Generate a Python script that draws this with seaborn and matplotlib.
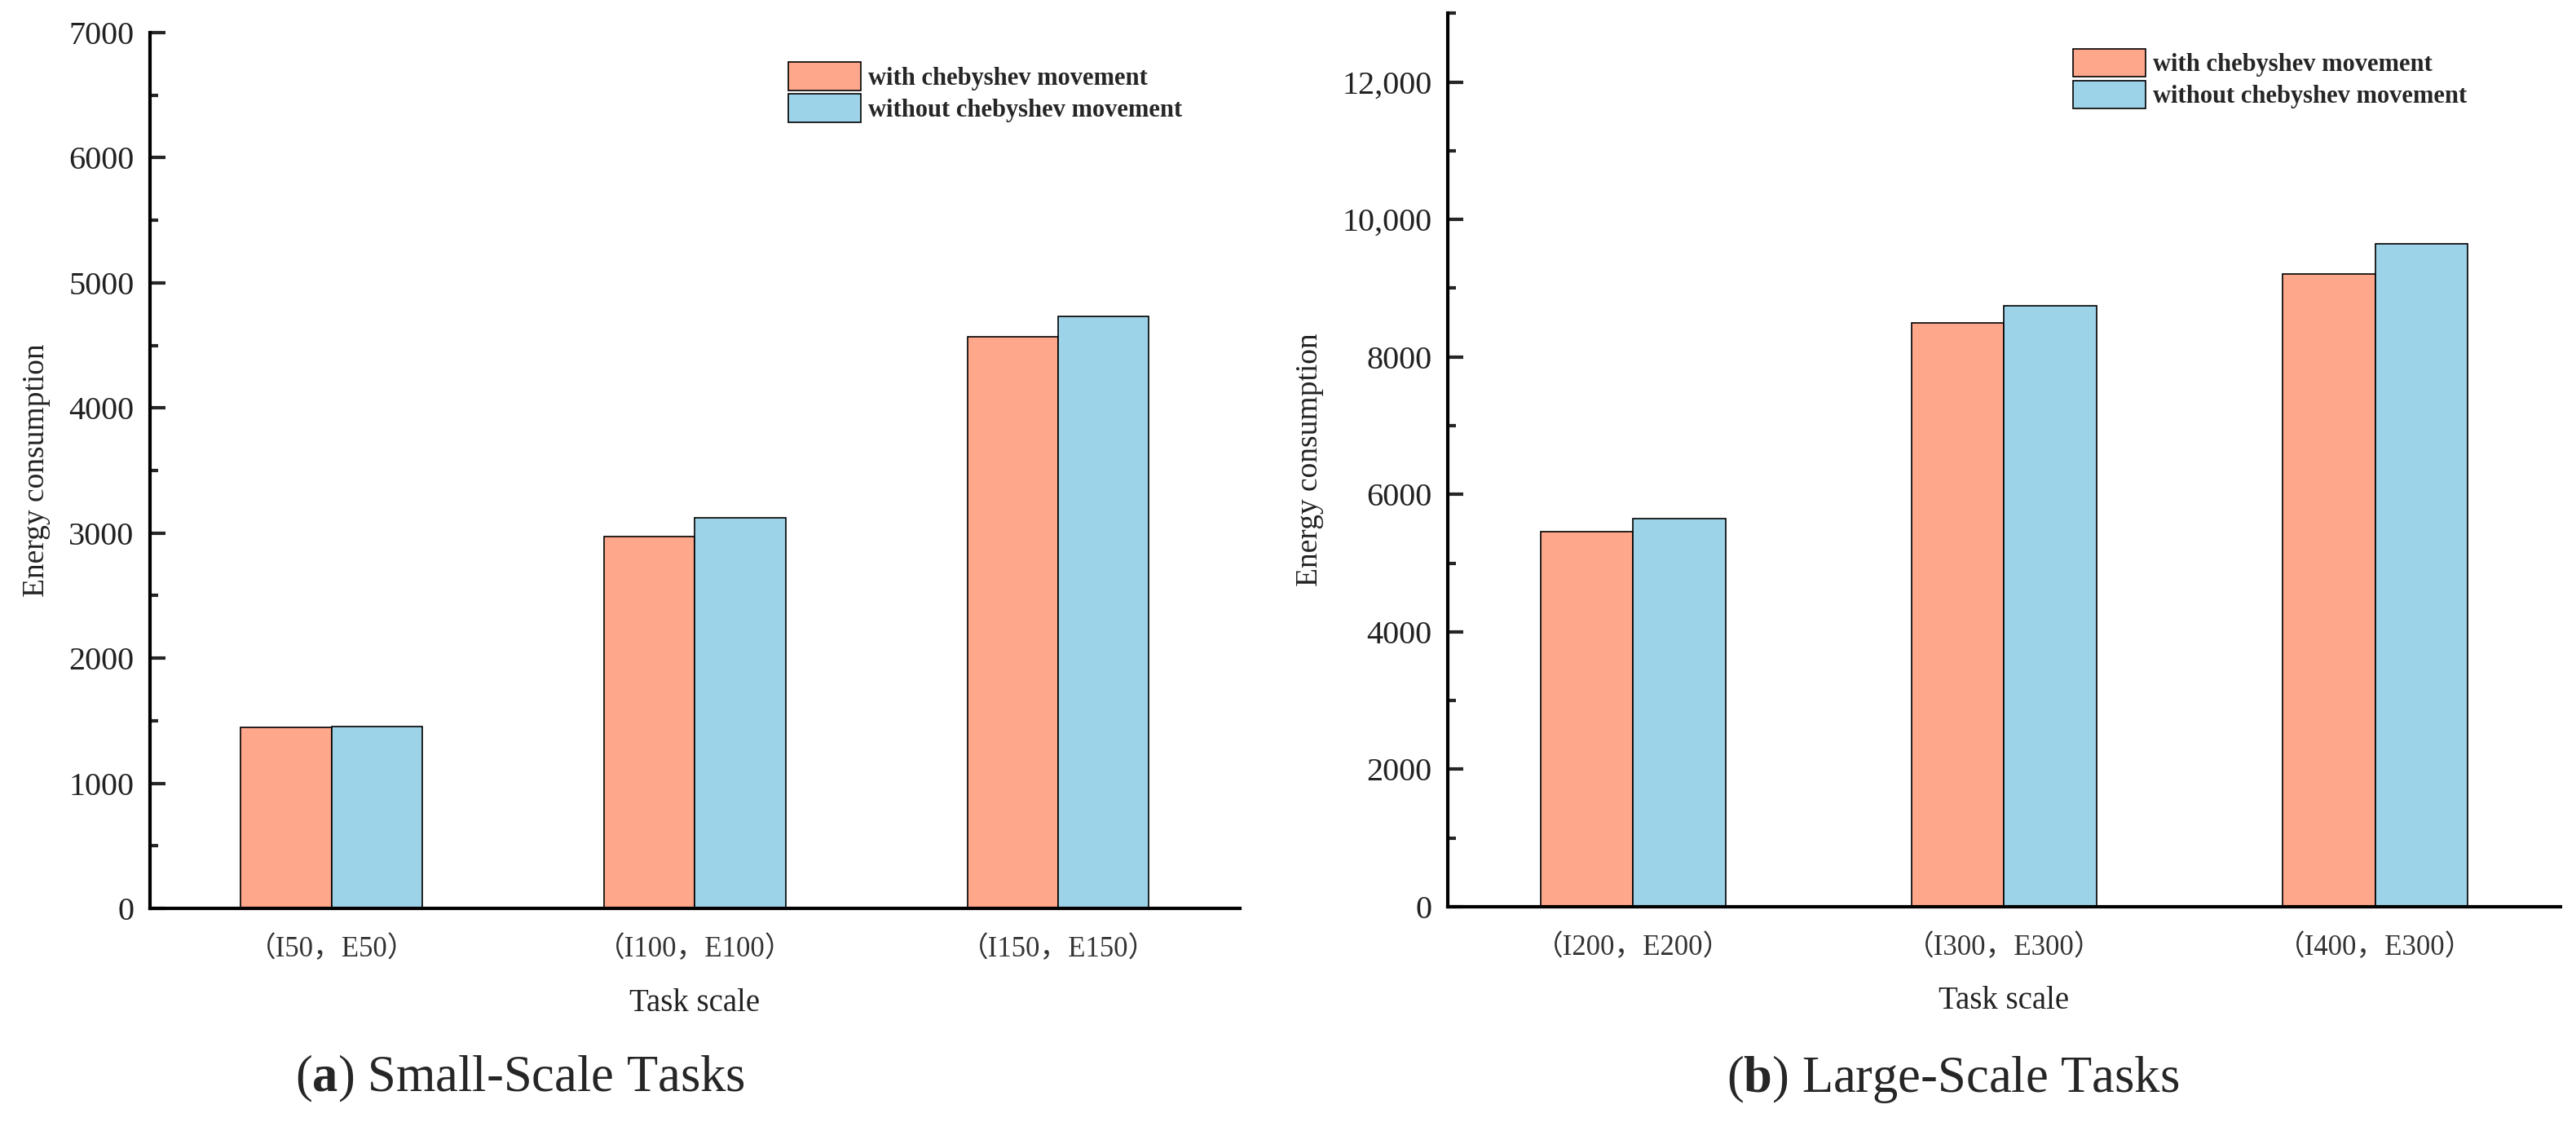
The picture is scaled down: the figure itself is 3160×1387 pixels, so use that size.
import pandas as pd
import matplotlib.pyplot as plt
import matplotlib.ticker as mticker
import seaborn as sns

methods = ['with chebyshev movement', 'without chebyshev movement']

small_scales = ['（I50，E50）', '（I100，E100）', '（I150，E150）']
small_with = [1445, 2972, 4568]
small_without = [1452, 3120, 4731]

large_scales = ['（I200，E200）', '（I300，E300）', '（I400，E300）']
large_with = [5455, 8490, 9210]
large_without = [5650, 8745, 9640]

colors = ['#FFA78A', '#9DD3E8']

sns.set_style('white')
plt.rcParams['font.family'] = ['Liberation Serif', 'Noto Sans CJK SC']
plt.rcParams['mathtext.fontset'] = 'custom'
plt.rcParams['mathtext.rm'] = 'Liberation Serif'
plt.rcParams['mathtext.bf'] = 'Liberation Serif:bold'


def make_df(scales, v_with, v_without):
    return pd.DataFrame({
        'scale': scales * 2,
        'energy': v_with + v_without,
        'method': [methods[0]] * len(scales) + [methods[1]] * len(scales),
    })


def fmt_large(v, pos):
    v = int(round(v))
    return f'{v:,}' if v >= 10000 else f'{v}'


fig = plt.figure(figsize=(31.6, 13.87), dpi=100)
ax1 = fig.add_axes([0.0582, 0.1968, 0.4231, 0.7744])
ax2 = fig.add_axes([0.562, 0.1983, 0.432, 0.790])

panels = [
    (ax1, make_df(small_scales, small_with, small_without), 7000, 1000, 500, 0.586, 0.966),
    (ax2, make_df(large_scales, large_with, large_without), 13000, 2000, 1000, 0.562, 0.960),
]

for ax, df, ymax, major, minor, lx, ly in panels:
    sns.barplot(data=df, x='scale', y='energy', hue='method', palette=colors,
                saturation=1, width=0.5, edgecolor='black', linewidth=1.2, ax=ax)
    ax.set_xlim(-0.5, 2.5)
    ax.set_ylim(0, ymax)
    ax.yaxis.set_major_locator(mticker.MultipleLocator(major))
    ax.yaxis.set_minor_locator(mticker.MultipleLocator(minor))
    ax.yaxis.set_major_formatter(mticker.FuncFormatter(fmt_large))
    for side in ['top', 'right']:
        ax.spines[side].set_visible(False)
    for side in ['left', 'bottom']:
        ax.spines[side].set_linewidth(3)
        ax.spines[side].set_color('black')
    ax.tick_params(axis='y', which='major', direction='in', length=14, width=3,
                   labelsize=29, pad=14, left=True, labelcolor='#222222')
    ax.tick_params(axis='y', which='minor', direction='in', length=7, width=3, left=True)
    ax.tick_params(axis='x', which='major', direction='in', length=10, width=3,
                   labelsize=25, pad=24, bottom=True, labelcolor='#333333')
    ax.set_xlabel('Task scale', fontsize=28, labelpad=22, color='#222222')
    ax.set_ylabel('Energy consumption', fontsize=27, labelpad=16, color='#222222')

    handles, labels = ax.get_legend_handles_labels()
    ax.legend(handles, labels, loc='upper left', bbox_to_anchor=(lx, ly),
              frameon=False, borderaxespad=0, borderpad=0,
              prop={'family': 'Liberation Serif', 'weight': 'bold', 'size': 22},
              handlelength=2.9, handleheight=1.35, handletextpad=0.3,
              labelspacing=0.15)

fig.text(0.202, 0.046, r'($\mathbf{a}$) Small-Scale Tasks', fontsize=45, ha='center', va='center')
fig.text(0.758, 0.046, r'($\mathbf{b}$) Large-Scale Tasks', fontsize=45, ha='center', va='center')

fig.savefig('out.png', dpi=100)
